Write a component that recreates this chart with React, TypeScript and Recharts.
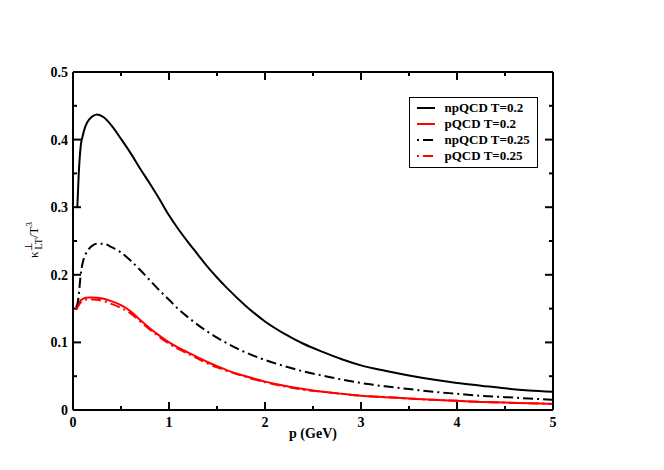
import React from "react"
import { LineChart, Line, XAxis, YAxis, Legend, ReferenceLine, ReferenceArea } from "recharts"

// momentum grid (GeV)
const pValues = [
  0.03, 0.045, 0.06, 0.08, 0.1, 0.13, 0.17, 0.21, 0.25, 0.32, 0.4, 0.5, 0.6, 0.7, 0.8, 0.9,
  1.0, 1.1, 1.2, 1.3, 1.4, 1.5, 1.6, 1.8, 2.0, 2.2, 2.4, 2.6, 2.8, 3.0, 3.25, 3.5, 3.75, 4.0,
  4.25, 4.5, 4.75, 5.0,
]

const npQCD02 = [
  null, 0.3, 0.35, 0.39, 0.405, 0.42, 0.43, 0.435, 0.437, 0.433, 0.421, 0.401, 0.38, 0.357,
  0.335, 0.312, 0.288, 0.267, 0.248, 0.23, 0.212, 0.196, 0.181, 0.154, 0.131, 0.113, 0.098,
  0.086, 0.075, 0.066, 0.058, 0.051, 0.045, 0.04, 0.036, 0.032, 0.029, 0.027,
]

const pQCD02 = [
  0.15, 0.153, 0.158, 0.162, 0.164, 0.166, 0.1665, 0.1665, 0.166, 0.1645, 0.161, 0.155, 0.146,
  0.133, 0.121, 0.11, 0.1, 0.092, 0.085, 0.078, 0.071, 0.065, 0.059, 0.05, 0.042, 0.036, 0.031,
  0.027, 0.024, 0.021, 0.019, 0.017, 0.015, 0.0135, 0.012, 0.011, 0.01, 0.009,
]

const npQCD025 = [
  0.152, 0.156, 0.17, 0.2, 0.217, 0.23, 0.239, 0.244, 0.246, 0.246, 0.241, 0.233, 0.221, 0.207,
  0.192, 0.177, 0.163, 0.149, 0.137, 0.126, 0.116, 0.107, 0.099, 0.085, 0.074, 0.065, 0.057,
  0.051, 0.045, 0.04, 0.035, 0.031, 0.027, 0.024, 0.021, 0.019, 0.017, 0.015,
]

const pQCD025 = [
  0.148, 0.151, 0.155, 0.159, 0.161, 0.163, 0.1635, 0.1635, 0.163, 0.161, 0.157, 0.151, 0.143,
  0.131, 0.119, 0.108, 0.098, 0.09, 0.083, 0.076, 0.069, 0.063, 0.058, 0.049, 0.041, 0.035,
  0.03, 0.027, 0.024, 0.021, 0.019, 0.017, 0.015, 0.0135, 0.012, 0.011, 0.01, 0.009,
]

const xTicks = [0, 0.5, 1, 1.5, 2, 2.5, 3, 3.5, 4, 4.5, 5]
const yTicks = [0, 0.05, 0.1, 0.15, 0.2, 0.25, 0.3, 0.35, 0.4, 0.45, 0.5]
const xMajor = [0, 1, 2, 3, 4, 5]
const yMajor = [0, 0.1, 0.2, 0.3, 0.4, 0.5]

const series = [
  { key: "np02", name: "npQCD T=0.2", color: "#000000", dash: undefined },
  { key: "p02", name: "pQCD T=0.2", color: "#ff0000", dash: undefined },
  { key: "np025", name: "npQCD T=0.25", color: "#000000", dash: "10 4 2 4" },
  { key: "p025", name: "pQCD T=0.25", color: "#ff0000", dash: "10 4 2 4" },
]

const rows = pValues.map((p, i) => ({
  p,
  np02: npQCD02[i],
  p02: pQCD02[i],
  np025: npQCD025[i],
  p025: pQCD025[i],
}))

const FONT = "'Liberation Serif', 'Times New Roman', serif"
const frame = { stroke: "#000", strokeWidth: 2 }

// chart geometry
const W = 664
const H = 470
const margin = { top: 62, right: 101, bottom: 30, left: 33 }
const plotW = W - margin.left - margin.right - 40 - 10
const plotH = H - margin.top - margin.bottom - 30 - 10
const X_MAX = 5
const Y_MAX = 0.5
// tick sizes converted to data units
const xLen = (px: number) => (px * X_MAX) / plotW
const yLen = (px: number) => (px * Y_MAX) / plotH

const isMajorX = (v: number) => xMajor.includes(v)
const isMajorY = (v: number) => yMajor.includes(v)

const renderBottomTick = (props: any) => {
  const v = props.payload.value
  if (!isMajorX(v)) return <g />
  return (
    <text x={props.x} y={props.y + 17} textAnchor="middle" fontFamily={FONT} fontWeight="bold" fontSize={14} fill="#000">
      {String(v)}
    </text>
  )
}

const renderLeftTick = (props: any) => {
  const v = props.payload.value
  if (!isMajorY(v)) return <g />
  return (
    <text x={props.x - 5} y={props.y + 5} textAnchor="end" fontFamily={FONT} fontWeight="bold" fontSize={14} fill="#000">
      {v === 0 ? "0" : v.toFixed(1)}
    </text>
  )
}

function XLabel(props: any) {
  const { x, y, width } = props.viewBox
  return (
    <text x={x + width / 2} y={y + 28} textAnchor="middle" fontFamily={FONT} fontWeight="bold" fontSize={14} fill="#000">
      p (GeV)
    </text>
  )
}

function YLabel(props: any) {
  const { x } = props.viewBox
  const cx = x + 5
  const cy = 240
  return (
    <text x={cx} y={cy} transform={`rotate(-90, ${cx}, ${cy})`} textAnchor="middle" fontFamily={FONT} fontSize={13} fill="#000">
      κ
      <tspan dy={-6} fontSize={10}>⊥</tspan>
      <tspan dx={-7} dy={10} fontSize={10}>LT</tspan>
      <tspan dy={-4}>/T</tspan>
      <tspan dy={-6} fontSize={9}>3</tspan>
    </text>
  )
}

function LegendBox() {
  return (
    <div
      style={{
        width: 129,
        height: 71,
        boxSizing: "border-box",
        border: "1.5px solid #000",
        background: "#fff",
        paddingTop: 2,
        fontFamily: FONT,
        fontWeight: "bold",
        fontSize: 13,
        color: "#000",
        textAlign: "left",
      }}
    >
      {series.map((s) => (
        <div key={s.key} style={{ height: 16, display: "flex", alignItems: "center", whiteSpace: "nowrap" }}>
          <svg width={18} height={16} style={{ marginLeft: 6.5, flex: "none" }}>
            <line
              x1={0}
              x2={18}
              y1={8}
              y2={8}
              stroke={s.color}
              strokeWidth={2}
              strokeDasharray={s.dash}
              strokeDashoffset={s.dash ? 14 : 0}
            />
          </svg>
          <span style={{ marginLeft: 10, lineHeight: "16px" }}>{s.name}</span>
        </div>
      ))}
    </div>
  )
}

export default function App() {
  const tickMarks: React.ReactNode[] = []
  yTicks.forEach((v) => {
    const len = xLen(isMajorY(v) ? 8 : 4)
    tickMarks.push(
      <ReferenceLine key={`yl${v}`} xAxisId="b" yAxisId="l" ifOverflow="visible" stroke="#000" strokeWidth={2}
        segment={[{ x: 0, y: v }, { x: len, y: v }]} />,
      <ReferenceLine key={`yr${v}`} xAxisId="b" yAxisId="l" ifOverflow="visible" stroke="#000" strokeWidth={2}
        segment={[{ x: X_MAX, y: v }, { x: X_MAX - len, y: v }]} />
    )
  })
  // x ticks as thin filled bars, 2px wide
  const half = xLen(1)
  xTicks.forEach((v) => {
    const len = yLen(isMajorX(v) ? 8 : 4)
    tickMarks.push(
      <ReferenceArea key={`xb${v}`} xAxisId="b" yAxisId="l" ifOverflow="visible"
        x1={v - half} x2={v + half} y1={0} y2={len} fill="#000" fillOpacity={1} stroke="none" />,
      <ReferenceArea key={`xt${v}`} xAxisId="b" yAxisId="l" ifOverflow="visible"
        x1={v - half} x2={v + half} y1={Y_MAX - len} y2={Y_MAX} fill="#000" fillOpacity={1} stroke="none" />
    )
  })

  return (
    <div style={{ position: "absolute", left: 0, top: 0, width: W, height: H, background: "#fff" }}>
      <LineChart width={W} height={H} data={rows} margin={margin}>
        <XAxis
          xAxisId="b"
          type="number"
          dataKey="p"
          domain={[0, X_MAX]}
          ticks={xTicks}
          interval={0}
          height={30}
          tickSize={0}
          tickMargin={0}
          tickLine={false}
          tick={renderBottomTick}
          axisLine={frame}
          label={{ content: <XLabel /> }}
        />
        <XAxis
          xAxisId="t"
          orientation="top"
          type="number"
          dataKey="p"
          domain={[0, X_MAX]}
          height={10}
          tickLine={false}
          tick={false}
          axisLine={frame}
        />
        <YAxis
          yAxisId="l"
          type="number"
          domain={[0, Y_MAX]}
          ticks={yTicks}
          interval={0}
          width={40}
          tickSize={0}
          tickMargin={0}
          tickLine={false}
          tick={renderLeftTick}
          axisLine={frame}
          label={{ content: <YLabel /> }}
        />
        <YAxis
          yAxisId="r"
          orientation="right"
          type="number"
          domain={[0, Y_MAX]}
          width={10}
          tickLine={false}
          tick={false}
          axisLine={frame}
        />
        <Legend
          layout="horizontal"
          verticalAlign="middle"
          align="center"
          content={<LegendBox />}
          wrapperStyle={{ position: "absolute", left: 409, top: 97, width: 129, height: 71 }}
        />
        {tickMarks}
        {series.map((s) => (
          <Line
            key={s.key}
            xAxisId="b"
            yAxisId="l"
            type="monotone"
            dataKey={s.key}
            name={s.name}
            stroke={s.color}
            strokeWidth={2}
            strokeDasharray={s.dash}
            dot={false}
            activeDot={false}
            isAnimationActive={false}
          />
        ))}
      </LineChart>
    </div>
  )
}
